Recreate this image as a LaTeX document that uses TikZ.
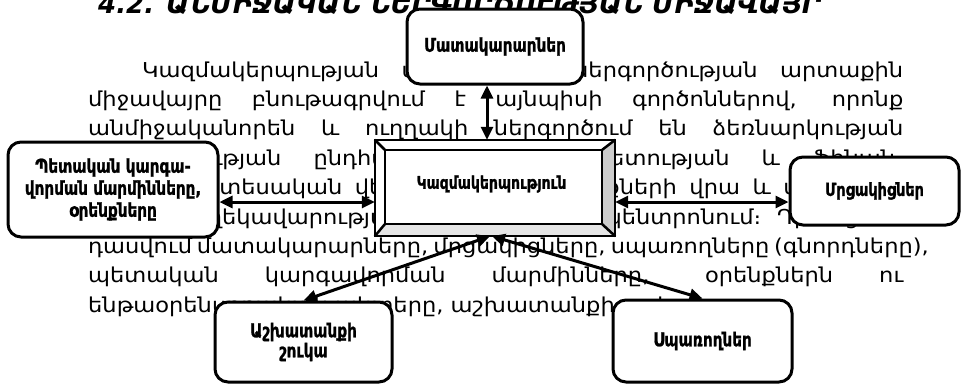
\documentclass[tikz,border=0pt]{standalone}
\usepackage{fontspec}
\setmainfont{DejaVu Sans}
\newfontfamily\parafont[FakeStretch=1.1]{DejaVu Sans}
\newfontfamily\lblfont[FakeStretch=0.8,FakeBold=1.2]{DejaVu Sans Bold}
\newfontfamily\ttlfont{DejaVu Sans Bold Oblique}
\usetikzlibrary{arrows.meta,calc}
\begin{document}
\begin{tikzpicture}[x=1pt,y=-1pt,
  rbox/.style={draw, line width=3pt, rounded corners=13pt, fill=white, align=center, inner sep=0pt, font=\lblfont\fontsize{19}{22}\selectfont},
  link/.style={line width=3pt, {Triangle[length=13pt,width=12pt]}-{Triangle[length=13pt,width=12pt]}},
  facet/.style={draw, line width=2.5pt, line join=miter}]
\useasboundingbox (0,0) rectangle (963,384);
% title, cut by the top edge
\node[anchor=base west, inner sep=0pt, font=\ttlfont\fontsize{26}{30}\selectfont] (title) at (98,13) {4.2. ԱՆՄԻՋԱԿԱՆ ՆԵՐԳՈՐԾՈՒԹՅԱՆ ՄԻՋԱՎԱՅՐ};
% paragraph
\node[anchor=base west, inner sep=0pt, font=\parafont\fontsize{20.5}{29.4}\selectfont] (para) at (88,77) {\parbox[t]{815pt}{%
\makebox[815pt][s]{\hspace*{54pt}Կազմակերպության անմիջական ներգործության արտաքին}\\
\makebox[815pt][s]{միջավայրը բնութագրվում է այնպիսի գործոններով, որոնք}\\
\makebox[815pt][s]{անմիջականորեն և ուղղակի ներգործում են ձեռնարկության}\\
\makebox[815pt][s]{գործունեության ընդհանուր արդյունավետության և ֆինան-}\\
\makebox[815pt][s]{սական-տնտեսական վերջնական արդյունքների վրա և մշտապես}\\
\makebox[815pt][s]{գտնվում ղեկավարության ուշադրության կենտրոնում։ Դրանց են}\\
\makebox[815pt][s]{դասվում մատակարարները, մրցակիցները, սպառողները (գնորդները),}\\
\makebox[815pt][s]{պետական կարգավորման մարմինները, օրենքներն ու}\\
\makebox[815pt][l]{ենթաօրենսդրական ակտերը, աշխատանքի շուկան։}}};
% boxes
\node[rbox, minimum width=176, minimum height=75] (sup) at (495,46.5) {Մատակարարներ};
\node[rbox, minimum width=210, minimum height=95] (gov) at (113,189.5) {Պետական կարգա-\\վորման մարմինները,\\օրենքները};
\node[rbox, minimum width=169, minimum height=68, font=\lblfont\fontsize{18}{22}\selectfont] (comp) at (874.5,191) {Մրցակիցներ};
\node[rbox, minimum width=177, minimum height=80, font=\lblfont\fontsize{19}{20}\selectfont] (labor) at (303.5,342) {Աշխատանքի\\շուկա};
\node[rbox, minimum width=179, minimum height=82] (cons) at (702.5,341) {Սպառողներ};
% central bevel box
\node[minimum width=240, minimum height=96, inner sep=0pt, fill=white] (org) at (495,188) {};
\coordinate (i1) at ($(org.north west)+(10,10)$);
\coordinate (i2) at ($(org.north east)+(-13,10)$);
\coordinate (i3) at ($(org.south east)+(-13,-12)$);
\coordinate (i4) at ($(org.south west)+(10,-12)$);
\fill[gray!40] (org.north east) -- (org.south east) -- (i3) -- (i2) -- cycle;
\fill[gray!20] (org.south west) -- (org.south east) -- (i3) -- (i4) -- cycle;
\draw[facet] (org.north west) rectangle (org.south east);
\draw[facet] (i1) rectangle (i3);
\draw[facet] (org.north west) -- (i1) (org.north east) -- (i2) (org.south east) -- (i3) (org.south west) -- (i4);
\node[inner sep=0pt, font=\lblfont\fontsize{17.5}{19}\selectfont] (orglbl) at ($(i1)!0.5!(i3)+(-2,-3)$) {Կազմակերպություն};
% connectors
\coordinate (hy) at (0,202);
\draw[link] ($(sup.south)+(-8,0)$) -- ($(org.north)+(-8,0)$);
\draw[link] (gov.east |- hy) -- (org.west |- hy);
\draw[link] (org.east |- hy) -- (comp.west |- hy);
\draw[link] ($(org.south)+(-5,0)$) -- (labor.north);
\draw[link] ($(org.south)+(-3,0)$) -- (cons.north);
\end{tikzpicture}
\end{document}
